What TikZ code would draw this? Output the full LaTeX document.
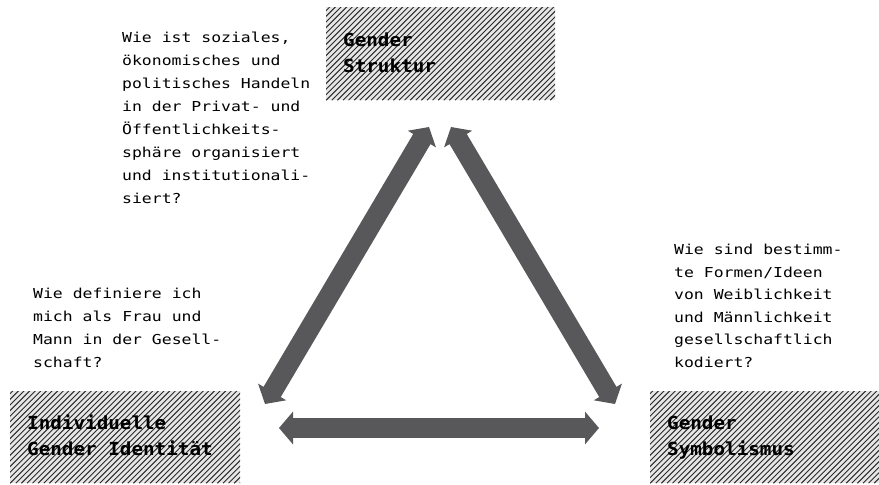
\documentclass[tikz,border=0pt]{standalone}
\usepackage{fontspec}
\usetikzlibrary{arrows.meta}
\newfontfamily\bodymono[FakeStretch=1.2]{DejaVu Sans Mono}
\newfontfamily\titlemono[FakeStretch=1.07]{DejaVu Sans Mono Bold}
\definecolor{arrowgray}{HTML}{58585A}
\definecolor{hatchbg}{HTML}{E6E6E6}
\definecolor{hatchline}{HTML}{2A2A2A}
\tikzset{
  hatchbox/.style={draw=none, fill=hatchbg, inner sep=0pt, anchor=north west,
    path picture={
      \foreach \k in {-40,...,60}{
        \draw[hatchline, line width=0.95pt]
          ([xshift=\k*5.6pt]path picture bounding box.south west) -- ++(140pt,140pt);
      }
    }},
  boxtitle/.style={anchor=base west, inner sep=0pt, align=left,
    font={\fontsize{18pt}{26pt}\selectfont\titlemono}},
  question/.style={anchor=base west, inner sep=0pt, align=left,
    font={\fontsize{13.7pt}{23pt}\selectfont\bodymono}},
  bigarrow/.style={draw=arrowgray, line width=20pt,
    {Triangle[width=32pt,length=14pt]}-{Triangle[width=32pt,length=14pt]}}
}
\begin{document}
\begin{tikzpicture}[x=1pt,y=-1pt]
\useasboundingbox (0,0) rectangle (879,485);
% boxes
\node[hatchbox, minimum width=229pt, minimum height=93pt] (struk) at (326,7) {};
\node[hatchbox, minimum width=230pt, minimum height=92pt] (ident) at (10,391) {};
\node[hatchbox, minimum width=229pt, minimum height=92pt] (symb) at (650,391) {};
% titles (anchor = baseline of last line)
\node[boxtitle] (t1) at ([xshift=17pt,yshift=-65pt]struk.north west) {Gender\\Struktur};
\node[boxtitle] (t2) at ([xshift=17pt,yshift=-64pt]ident.north west) {Individuelle\\Gender Identität};
\node[boxtitle] (t3) at ([xshift=17pt,yshift=-64pt]symb.north west) {Gender\\Symbolismus};
% questions (anchor = baseline of last line)
\node[question] (q1) at (122,203) {Wie ist soziales,\\ökonomisches und\\politisches Handeln\\in der Privat- und\\Öffentlichkeits-\\sphäre organisiert\\und institutionali-\\siert?};
\node[question] (q2) at (33,367) {Wie definiere ich\\mich als Frau und\\Mann in der Gesell-\\schaft?};
\node[question, font={\fontsize{13.7pt}{22.5pt}\selectfont\bodymono}] (q3) at (674,367) {Wie sind bestimm-\\te Formen/Ideen\\von Weiblichkeit\\und Männlichkeit\\gesellschaftlich\\kodiert?};
% arrow end points
\coordinate (aL1) at (265,404);
\coordinate (aL2) at (429,127);
\coordinate (aR1) at (451,127);
\coordinate (aR2) at (615,404);
\coordinate (aH1) at (279,428);
\coordinate (aH2) at (599,428);
\draw[bigarrow] (aL1) -- (aL2);
\draw[bigarrow] (aR1) -- (aR2);
\draw[bigarrow] (aH1) -- (aH2);
\end{tikzpicture}
\end{document}
